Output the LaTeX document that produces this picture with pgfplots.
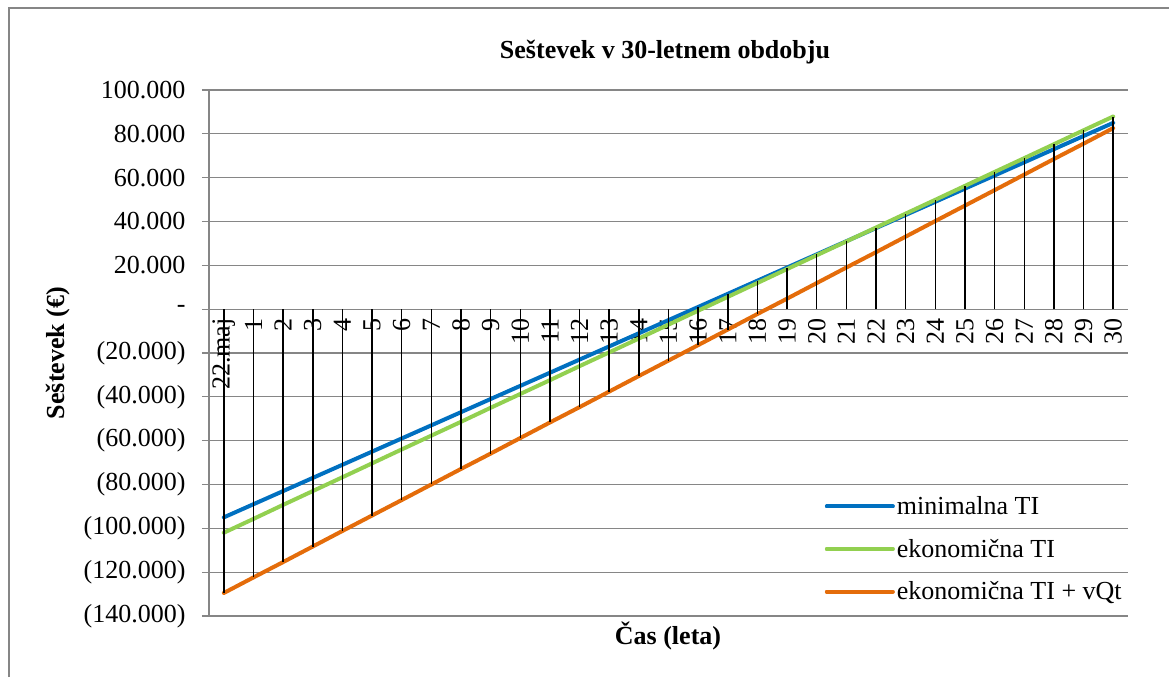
\documentclass[border=0pt]{standalone}
\usepackage{pgfplots}
\pgfplotsset{compat=1.18}
\usepackage{pgfplotstable}
\usepackage{fontspec}
\setmainfont{Liberation Serif}
\definecolor{cblue}{RGB}{0,112,192}
\definecolor{cgreen}{RGB}{146,208,80}
\definecolor{corange}{RGB}{228,108,10}
\definecolor{cgrid}{RGB}{134,134,134}

\pgfplotstableread{
x a b c
0 -95000 -102000 -129500
1 -89000 -95700 -122400
2 -83000 -89300 -115400
3 -77000 -83000 -108300
4 -71000 -76700 -101200
5 -65000 -70350 -94150
6 -59000 -64000 -87100
7 -53000 -57700 -80000
8 -47000 -51400 -72900
9 -41000 -45000 -65900
10 -35000 -38700 -58800
11 -29000 -32400 -51700
12 -23000 -26000 -44700
13 -17000 -19700 -37600
14 -11000 -13400 -30500
15 -5000 -7050 -23450
16 1000 -700 -16400
17 7000 5600 -9300
18 13000 11950 -2200
19 19000 18300 4800
20 25000 24600 11900
21 31000 30900 19000
22 37000 37250 26000
23 43000 43600 33100
24 49000 49900 40200
25 55000 56250 47250
26 61000 62600 54300
27 67000 68900 61400
28 73000 75250 68500
29 79000 81600 75500
30 85000 87900 82600
}\data

\begin{document}
\begin{tikzpicture}[x=1pt,y=1pt]
\path[use as bounding box] (-209,-61) rectangle (960,616);
\draw[cgrid, line width=1.3pt] (-200,-61) -- (-200,608) -- (960,608);
\begin{axis}[at={(0,0)}, anchor=south west, scale only axis,
  width=919pt, height=526pt,
  xmin=-0.5, xmax=30.5, ymin=-140000, ymax=100000,
  scaled y ticks=false,
  axis x line=middle, axis y line=left,
  axis line style={-, cgrid, line width=1.3pt},
  hide obscured x ticks=false, hide obscured y ticks=false,
  xtick={0,1,...,30},
  xticklabels={22.maj,1,2,3,4,5,6,7,8,9,10,11,12,13,14,15,16,17,18,19,20,21,22,23,24,25,26,27,28,29,30},
  x tick style={draw=none},
  ytick={-140000,-120000,-100000,-80000,-60000,-40000,-20000,0,20000,40000,60000,80000,100000},
  yticklabels={(140.000),(120.000),(100.000),(80.000),(60.000),(40.000),(20.000),-,20.000,40.000,60.000,80.000,100.000},
  ymajorgrids, grid style={cgrid, line width=1.3pt},
  y tick style={cgrid, line width=1.3pt},
  tick align=outside, major tick length=7pt,
  tick label style={font=\fontsize{26}{30}\selectfont},
  xticklabel style={rotate=90, anchor=east, inner sep=2pt},
  yticklabel style={xshift=-13pt},
  clip=false,
  legend style={draw=none, fill=none, at={(0.670,0.231)}, anchor=north west,
    font=\fontsize{26}{30}\selectfont, row sep=19pt, inner sep=0pt},
  legend cell align=left,
  legend image code/.code={\path (0pt,0pt) -- (66pt,0pt);\draw[#1, line width=4pt, line cap=round] (0pt,0pt) -- (54pt,0pt);},
]
\addplot[cblue, line width=4pt, line cap=round] table[x=x,y=a]{\data};
\addlegendentry{minimalna TI}
\addplot[cgreen, line width=4pt, line cap=round] table[x=x,y=b]{\data};
\addlegendentry{ekonomična TI}
\addplot[corange, line width=4pt, line cap=round] table[x=x,y=c]{\data};
\addlegendentry{ekonomična TI + vQt}
\addplot[ycomb, black, line width=1.5pt, forget plot, mark=none] table[x=x,y=a]{\data};
\addplot[ycomb, black, line width=1.5pt, forget plot, mark=none] table[x=x,y=b]{\data};
\addplot[ycomb, black, line width=1.5pt, forget plot, mark=none] table[x=x,y=c]{\data};
\end{axis}
\node[font=\fontsize{26}{30}\selectfont\bfseries] at (456,564) {Seštevek v 30-letnem obdobju};
\node[rotate=90, font=\fontsize{26}{30}\selectfont\bfseries] at (-151,263) {Seštevek (€)};
\node[font=\fontsize{26}{30}\selectfont\bfseries] at (459,-20) {Čas (leta)};
\end{tikzpicture}
\end{document}
